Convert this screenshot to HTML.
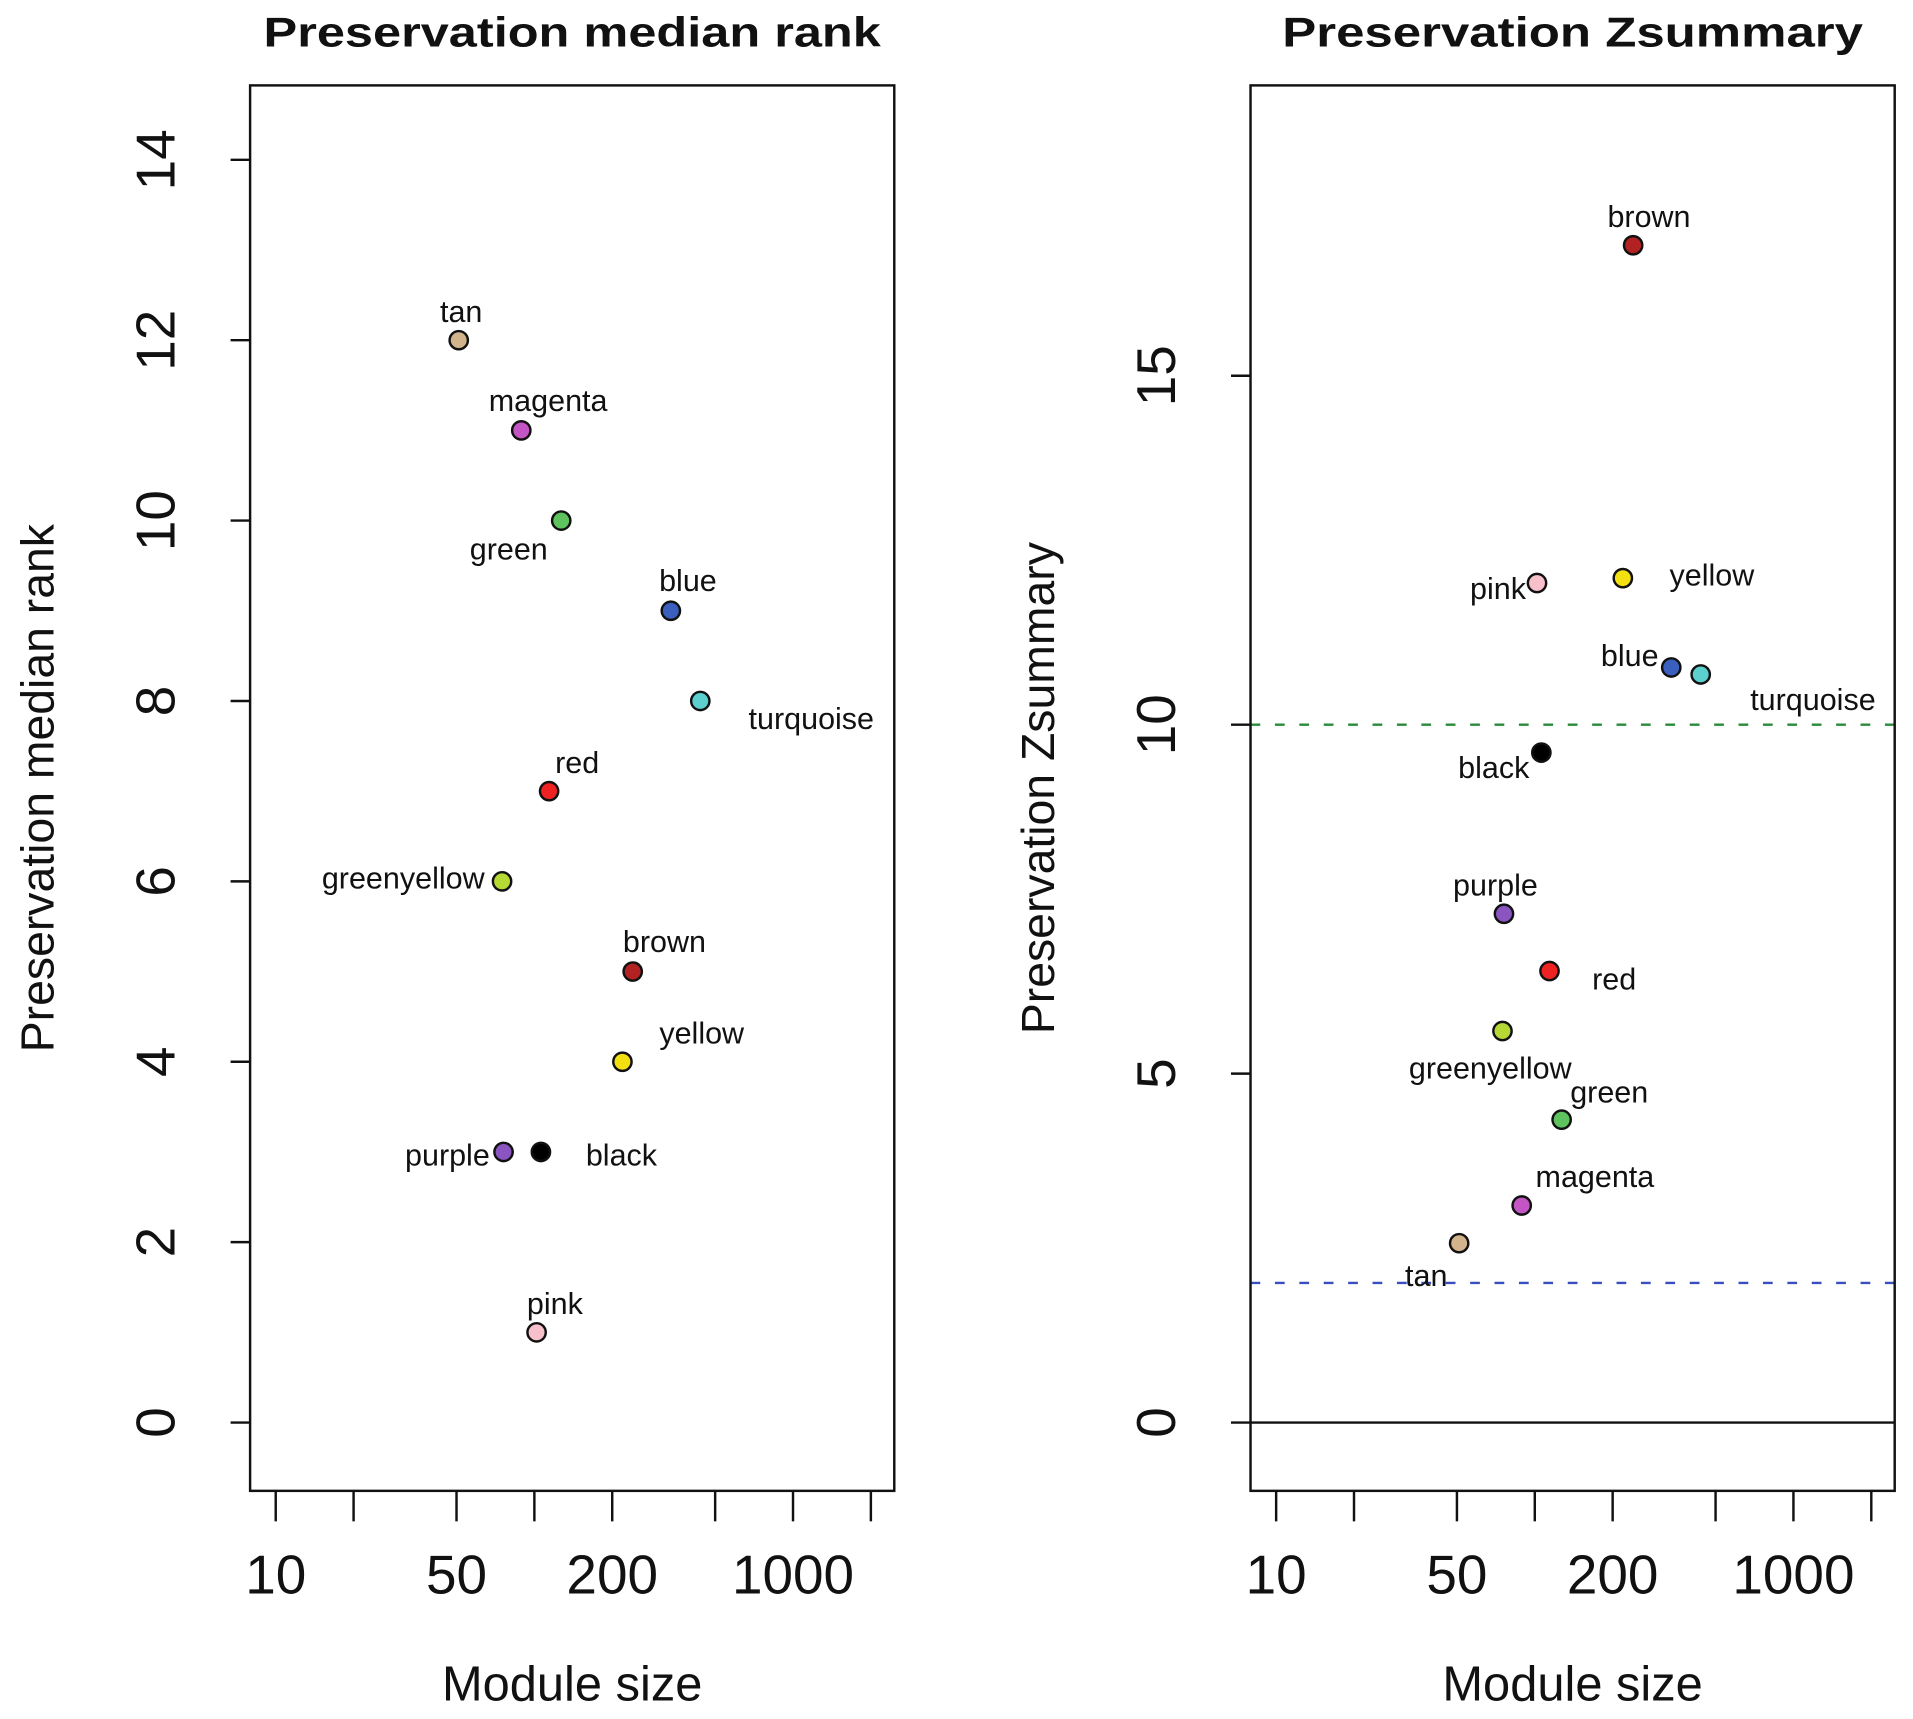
<!DOCTYPE html>
<html><head><meta charset="utf-8">
<style>
html,body{margin:0;padding:0;background:#fff;}
svg{display:block;}
text{font-family:"Liberation Sans",sans-serif;fill:#111;}
</style></head>
<body>
<svg id="chart" width="1913" height="1719" viewBox="0 0 1568 1409" preserveAspectRatio="none" xmlns="http://www.w3.org/2000/svg"></svg>
<script>
// ---- data ----
const modules = ["tan","magenta","green","blue","turquoise","red","greenyellow","brown","yellow","purple","black","pink"];
const moduleSizes = [51, 89, 127, 337, 438, 114, 75, 240, 219, 76, 106, 102];
const medianRank = [12, 11, 10, 9, 8, 7, 6, 5, 4, 3, 3, 1];
const zSummary = [2.57, 3.11, 4.34, 10.82, 10.72, 6.47, 5.61, 16.87, 12.1, 7.29, 9.6, 12.03];
const fillColors = ["#d2b48c","#c455c4","#5ec35e","#3a5fbf","#5ccfcf","#ee2222","#b5d835","#b22222","#f2e010","#8a55c0","#000000","#f8c0cb"];
const xTickValues = [10,20,50,100,200,500,1000,2000];
const xTickLabels = ["10","50","200","1000"];
const xTickLabelValues = [10,50,200,1000];
const rankTicks = [0,2,4,6,8,10,12,14];
const zTicks = [0,5,10,15];
const zThresholds = [10, 2];
// label offsets (styling, px relative to point, label centre)
const rankLabelOff = [[2,-24],[22,-25],[-43,23],[14,-25],[91,14],[23,-24],[-81,-3],[26,-25],[65,-24],[-46,2],[66,2],[15,-24]];
const zLabelOff = [[-27,26],[60,-24],[39,-23],[-34,-10],[92,20],[53,6],[-10,30],[13,-24],[73,-3],[-7,-24],[-39,12],[-32,4]];

const svg = document.getElementById('chart');
const NS = "http://www.w3.org/2000/svg";
function mk(tag, attrs, parent){
  const e = document.createElementNS(NS, tag);
  for (const k in attrs) e.setAttribute(k, attrs[k]);
  (parent||svg).appendChild(e);
  return e;
}

function panel(cfg){
  const g = mk('g', {});
  
  
  const L = cfg.left, R = cfg.left + 528, T = 70, B = 1222;
  const xs = v => cfg.x10 + (Math.log10(v) - 1) * 212;
  const ys = v => 1166 - v * cfg.unit;
  const t = mk('text', {x:(L+R)/2, y:38, 'text-anchor':'middle', 'font-size':34, 'font-weight':'bold', textLength:cfg.tlen, lengthAdjust:'spacingAndGlyphs'}, g);
  t.textContent = cfg.title;
  
  
  cfg.lines.forEach(ln => {
    const l = mk('line', {x1:L, x2:R, y1:ys(ln.v), y2:ys(ln.v), stroke:ln.c, 'stroke-width':2, 'stroke-dasharray':ln.dash||''}, g);
    
    
  });
  const box = mk('rect', {x:L, y:T, width:528, height:B-T, fill:'none', stroke:'#111', 'stroke-width':2}, g);
  
  
  xTickValues.forEach(v => {
    const tk = mk('line', {x1:xs(v), x2:xs(v), y1:B, y2:B+25, stroke:'#111', 'stroke-width':2}, g);
    
    
  });
  xTickLabelValues.forEach((v,i) => {
    const tl = mk('text', {x:xs(v), y:1306, 'text-anchor':'middle', 'font-size':45}, g);
    tl.textContent = xTickLabels[i];
    
    
  });
  cfg.yt.forEach(v => {
    const tk = mk('line', {x1:L-16, x2:L, y1:ys(v), y2:ys(v), stroke:'#111', 'stroke-width':2}, g);
    
    
    const tl = mk('text', {x:0, y:0, 'text-anchor':'middle', 'font-size':45, transform:`translate(${L-62},${ys(v)}) rotate(-90)`}, g);
    tl.textContent = String(v);
    
    
  });
  const xt = mk('text', {x:(L+R)/2, y:1394, 'text-anchor':'middle', 'font-size':40}, g);
  xt.textContent = 'Module size';
  
  
  const yt = mk('text', {x:0, y:0, 'text-anchor':'middle', 'font-size':38, transform:`translate(${L-161},${646}) rotate(-90)`}, g);
  yt.textContent = cfg.ytitle;
  
  
  modules.forEach((m,i) => {
    const cx = xs(moduleSizes[i]), cy = ys(cfg.vals[i]);
    const c = mk('circle', {cx:cx, cy:cy, r:7.5, fill:fillColors[i], stroke:'#111', 'stroke-width':2}, g);
    
    
    const off = cfg.off[i];
    const lb = mk('text', {x:cx+off[0], y:cy+off[1]+9, 'text-anchor':'middle', 'font-size':25}, g);
    lb.textContent = m;
    
    
  });
}

panel({name:'median-rank-panel', left:205, x10:226, unit:73.93, tlen:506, title:'Preservation median rank', ytitle:'Preservation median rank', vals:medianRank, yt:rankTicks, off:rankLabelOff, lines:[]});
panel({name:'zsummary-panel', left:1025, x10:1046, unit:57.2, tlen:476, title:'Preservation Zsummary', ytitle:'Preservation Zsummary', vals:zSummary, yt:zTicks, off:zLabelOff,
  lines:[{v:0,c:'#111',name:'zero-line'},{v:zThresholds[0],c:'#2a8a3a',dash:'8 12',name:'threshold-10-line'},{v:zThresholds[1],c:'#3a4fbf',dash:'8 12',name:'threshold-2-line'}]});
</script>
</body></html>
